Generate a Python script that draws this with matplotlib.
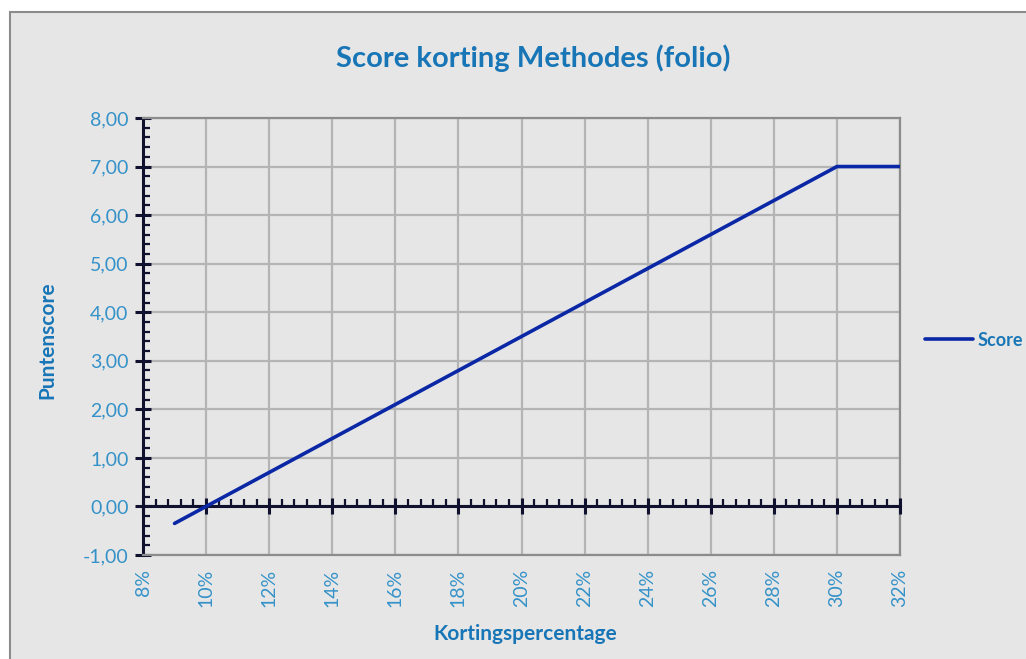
import matplotlib
matplotlib.use("Agg")
import matplotlib.pyplot as plt
from matplotlib.patches import Rectangle
from matplotlib.ticker import MultipleLocator, FuncFormatter, NullFormatter

# Data
pct = [9, 10, 11, 12, 13, 14, 15, 16, 17, 18, 19, 20, 21, 22, 23, 24, 25, 26, 27, 28, 29, 30, 31, 32]
score = [-0.35, 0.00, 0.35, 0.70, 1.05, 1.40, 1.75, 2.10, 2.45, 2.80, 3.15, 3.50, 3.85, 4.20,
         4.55, 4.90, 5.25, 5.60, 5.95, 6.30, 6.65, 7.00, 7.00, 7.00]
title = "Score korting Methodes (folio)"
xlabel = "Kortingspercentage"
ylabel = "Puntenscore"
series_name = "Score"

plt.rcParams['font.family'] = ['Lato', 'DejaVu Sans']

W, H = 1026, 659
fig = plt.figure(figsize=(W / 100, H / 100), dpi=100, facecolor='white')

bg = '#E6E6E6'
fig.patches.append(Rectangle((10 / W, -0.05), 1.1, 1 - 12 / H + 0.05, transform=fig.transFigure,
                             facecolor=bg, edgecolor='#8C8C8C', linewidth=1.5, zorder=-10))

ax = fig.add_axes([143 / W, 1 - 555 / H, (900 - 143) / W, (555 - 118) / H])
ax.set_facecolor(bg)

line_color = '#0A27A6'
axis_color = '#10112E'
tick_label_color = '#3592C8'
title_color = '#1876B7'

ax.plot(pct, score, color=line_color, linewidth=2.6, label=series_name, zorder=6,
        solid_capstyle='round')

ax.set_xlim(8, 32)
ax.set_ylim(-1, 8)

ax.xaxis.set_major_locator(MultipleLocator(2))
ax.yaxis.set_major_locator(MultipleLocator(1))
ax.yaxis.set_minor_locator(MultipleLocator(0.2))
ax.xaxis.set_major_formatter(FuncFormatter(lambda v, p: f"{int(round(v))}%"))
ax.yaxis.set_major_formatter(FuncFormatter(lambda v, p: f"{v:.2f}".replace('.', ',')))

ax.grid(True, which='major', color='#B4B4B4', linewidth=1.6, zorder=0)
ax.set_axisbelow(True)

for s in ['top', 'right', 'bottom']:
    ax.spines[s].set_color('#8C8C8C')
    ax.spines[s].set_linewidth(1.6)
ax.spines['left'].set_color(axis_color)
ax.spines['left'].set_linewidth(2.2)

ax.tick_params(axis='x', which='major', length=0, labelsize=14, labelcolor=tick_label_color,
               labelrotation=90, pad=10)
ax.tick_params(axis='y', which='major', direction='inout', length=11, width=2.2, color=axis_color,
               labelsize=14, labelcolor=tick_label_color, pad=5)
ax.tick_params(axis='y', which='minor', direction='in', length=5, width=1.6, color=axis_color)

# horizontal category axis crossing at y = 0
sec = ax.secondary_xaxis(1 / 9)
sec.set_zorder(4)
sec.xaxis.set_ticks_position('bottom')
for s in sec.spines.values():
    s.set_color(axis_color)
    s.set_linewidth(2.2)
sec.xaxis.set_major_locator(MultipleLocator(2))
sec.xaxis.set_minor_locator(MultipleLocator(0.4))
sec.xaxis.set_major_formatter(NullFormatter())
sec.tick_params(axis='x', which='major', direction='inout', length=11, width=2.2, color=axis_color,
                labelbottom=False, labeltop=False)
sec.tick_params(axis='x', which='minor', direction='in', length=5, width=1.6, color=axis_color)

fig.text(533 / W, 1 - 58 / H, title, ha='center', va='center', fontsize=21, fontweight='bold',
         color=title_color)
fig.text(525 / W, 1 - 634 / H, xlabel, ha='center', va='center', fontsize=15, fontweight='bold',
         color=title_color)
fig.text(47 / W, 1 - 340 / H, ylabel, ha='center', va='center', fontsize=15, fontweight='bold',
         color=title_color, rotation=90)

leg = fig.legend(loc='center left', bbox_to_anchor=(912 / W, 1 - 340 / H), frameon=False,
                 handlelength=2.7, handletextpad=0.25, borderaxespad=0.3,
                 prop={'size': 13, 'weight': 'bold'})
for t in leg.get_texts():
    t.set_color(title_color)

fig.savefig('out.png', dpi=100, facecolor='white')
